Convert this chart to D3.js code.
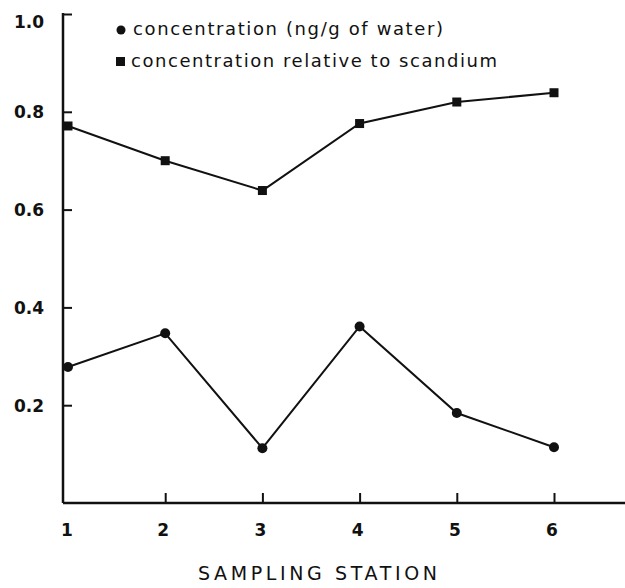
<!DOCTYPE html>
<html>
<head>
<meta charset="utf-8">
<script src="https://cdn.jsdelivr.net/npm/d3@7"></script>
<style>
  body { margin: 0; background: #fff; }
  svg { font-family: 'Liberation Sans', Arial, sans-serif; }
</style>
</head>
<body>
<div id="chart"></div>
<script>
const stations = [1, 2, 3, 4, 5, 6];
const concentration = [0.278, 0.347, 0.112, 0.361, 0.184, 0.114];
const relativeToSc = [0.771, 0.700, 0.639, 0.776, 0.820, 0.839];
const yTicks = [0.2, 0.4, 0.6, 0.8, 1.0];
const legendLabels = ['concentration (ng/g of water)', 'concentration relative to scandium'];

const width = 625, height = 588;
const axisX = 63, axisY = 503;
const wideFont = '"DejaVu Sans", Verdana, sans-serif';

const svg = d3.select('#chart').append('svg')
  .attr('width', width).attr('height', height);

const x = d3.scaleLinear().domain([1, 6]).range([68, 554]);
const y = d3.scaleLinear().domain([0, 1]).range([axisY, 14]);

// y axis
const yAxis = svg.append('g').attr('transform', `translate(${axisX},0)`)
  .call(d3.axisRight(y).tickValues(yTicks).tickSize(9).tickFormat(d => d.toFixed(1)));
yAxis.select('.domain').remove();
yAxis.selectAll('line').attr('stroke', '#111').attr('stroke-width', 2);
yAxis.selectAll('text').attr('x', -19).attr('text-anchor', 'end')
  .attr('dy', d => d === 1 ? '0.8em' : '0.35em')
  .style('font-family', wideFont)
  .style('font-size', '17px').style('font-weight', 'bold').attr('fill', '#111');
svg.append('line').attr('x1', axisX).attr('x2', axisX).attr('y1', y(1) - 1).attr('y2', axisY)
  .attr('stroke', '#111').attr('stroke-width', 2.5);

// x axis
const xAxis = svg.append('g').attr('transform', `translate(0,${axisY})`)
  .call(d3.axisTop(x).tickValues(stations.slice(1)).tickSize(10).tickFormat(''));
xAxis.select('.domain').remove();
xAxis.selectAll('line').attr('stroke', '#111').attr('stroke-width', 2);
svg.append('line').attr('x1', axisX).attr('x2', 625).attr('y1', axisY).attr('y2', axisY)
  .attr('stroke', '#111').attr('stroke-width', 2.5);
svg.append('g').selectAll('text').data(stations).join('text')
  .attr('x', d => x(d) - (d === 1 ? 1 : 2)).attr('y', 536)
  .attr('text-anchor', 'middle')
  .style('font-family', wideFont)
  .style('font-size', '17px').style('font-weight', 'bold').attr('fill', '#111')
  .text(d => d);

svg.append('text').attr('x', 198).attr('y', 580)
  .attr('textLength', 239).attr('lengthAdjust', 'spacing')
  .style('font-family', wideFont)
  .style('font-size', '19px').attr('fill', '#111')
  .text('SAMPLING STATION');

// series
const line = d3.line().x((d, i) => x(stations[i])).y(d => y(d));
[concentration, relativeToSc].forEach(s => {
  svg.append('path').datum(s).attr('d', line)
    .attr('fill', 'none').attr('stroke', '#111').attr('stroke-width', 2);
});
svg.append('g').selectAll('circle').data(concentration).join('circle')
  .attr('cx', (d, i) => x(stations[i])).attr('cy', d => y(d)).attr('r', 5).attr('fill', '#111');
svg.append('g').selectAll('rect').data(relativeToSc).join('rect')
  .attr('x', (d, i) => x(stations[i]) - 4.5).attr('y', d => y(d) - 4.5)
  .attr('width', 9).attr('height', 9).attr('fill', '#111');

// legend
const legend = svg.append('g');
legend.append('circle').attr('cx', 121).attr('cy', 30).attr('r', 4.5).attr('fill', '#111');
legend.append('rect').attr('x', 116).attr('y', 57).attr('width', 9).attr('height', 9).attr('fill', '#111');
legend.selectAll('text').data(legendLabels).join('text')
  .attr('x', (d, i) => i === 0 ? 133 : 131).attr('y', (d, i) => i === 0 ? 35 : 67)
  .attr('textLength', (d, i) => i === 0 ? 310 : 366).attr('lengthAdjust', 'spacing')
  .style('font-family', wideFont)
  .style('font-size', '18px').attr('fill', '#111')
  .text(d => d);
</script>
</body>
</html>
